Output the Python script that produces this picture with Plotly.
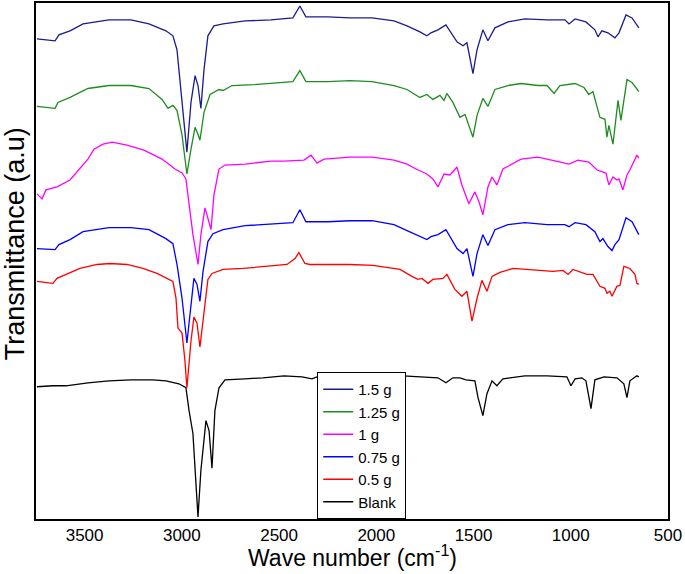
import plotly.graph_objects as go

# ---- data (wavenumber in cm^-1, transmittance in a.u.) ----
labels = ["1.5 g", "1.25 g", "1 g", "0.75 g", "0.5 g", "Blank"]
colors = ["#1c1c8e", "#1e8c1e", "#ff00ff", "#0000ff", "#ff0000", "#000000"]

wn_15 = [3745, 3652, 3632, 3575, 3508, 3375, 3262, 3169, 3082, 3046, 3025, 2999, 2974, 2953, 2932, 2917, 2902, 2886,
         2866, 2835, 2788, 2675, 2542, 2429, 2393, 2362, 2249, 2135, 2022, 1909, 1842, 1776, 1740, 1719, 1683, 1642,
         1616, 1585, 1554, 1534, 1503, 1482, 1452, 1426, 1390, 1323, 1236, 1122, 1030, 1009, 978, 922, 876, 860, 840,
         809, 773, 752, 716, 685, 650]
t_15 = [483, 481, 487, 491, 498, 502, 502, 498, 491, 486, 472, 419, 369, 419, 446, 436, 413, 452,
        486, 496, 498, 501, 502, 504, 516, 505, 505, 504, 504, 501, 496, 490, 486, 489, 492, 497,
        489, 480, 476, 479, 448, 472, 492, 481, 494, 500, 503, 502, 502, 498, 503, 500, 492, 485, 491,
        489, 484, 489, 507, 504, 494]

wn_125 = [3745, 3652, 3637, 3575, 3483, 3375, 3262, 3169, 3102, 3071, 3046, 3025, 2999, 2974, 2953, 2932, 2917, 2907,
          2886, 2855, 2809, 2788, 2742, 2629, 2495, 2429, 2393, 2362, 2249, 2135, 2022, 1909, 1842, 1796, 1776, 1740,
          1709, 1673, 1652, 1637, 1606, 1570, 1544, 1503, 1482, 1452, 1426, 1390, 1323, 1256, 1169, 1122, 1086, 1056,
          978, 932, 907, 886, 850, 824, 814, 804, 783, 757, 742, 711, 685, 650]
t_125 = [415, 413, 419, 424, 433, 436, 436, 433, 422, 413, 416, 411, 386, 347, 372, 394, 387, 381,
         409, 427, 432, 431, 436, 437, 439, 440, 451, 440, 440, 441, 440, 436, 432, 427, 424, 427,
         422, 426, 421, 428, 419, 404, 407, 384, 406, 423, 415, 432, 436, 438, 436, 436, 428, 436,
         438, 434, 427, 430, 404, 402, 384, 396, 377, 421, 401, 442, 439, 430]

wn_1 = [3745, 3719, 3699, 3642, 3575, 3519, 3483, 3452, 3405, 3359, 3282, 3195, 3102, 3035, 2999, 2979, 2963, 2943,
        2917, 2902, 2881, 2871, 2850, 2835, 2809, 2778, 2675, 2542, 2475, 2372, 2336, 2305, 2269, 2135, 2022, 1909,
        1842, 1796, 1740, 1709, 1683, 1652, 1621, 1585, 1560, 1524, 1493, 1472, 1452, 1426, 1405, 1380, 1349, 1256,
        1169, 1076, 1009, 963, 907, 865, 819, 804, 783, 763, 752, 732, 711, 696, 685, 660, 650]
t_1 = [327, 322, 331, 334, 341, 354, 362, 372, 377, 379, 376, 371, 362, 352, 348, 342, 319, 286,
       256, 286, 313, 306, 291, 326, 352, 356, 357, 360, 360, 361, 366, 358, 362, 364, 364, 361,
       357, 352, 347, 342, 334, 347, 346, 354, 336, 317, 329, 319, 306, 334, 344, 336, 352, 362,
       364, 360, 357, 361, 359, 351, 348, 336, 344, 341, 342, 331, 346, 351, 356, 366, 363]

wn_075 = [3745, 3652, 3632, 3575, 3508, 3375, 3262, 3169, 3082, 3046, 3025, 2999, 2974, 2958, 2938, 2922, 2907, 2891,
          2866, 2840, 2788, 2675, 2542, 2429, 2393, 2362, 2249, 2135, 2022, 1909, 1842, 1776, 1740, 1719, 1683, 1642,
          1616, 1585, 1554, 1534, 1503, 1482, 1452, 1426, 1390, 1323, 1236, 1122, 1030, 1009, 978, 922, 876, 850, 835,
          809, 788, 773, 752, 716, 685, 650]
t_075 = [272, 271, 276, 281, 289, 293, 293, 291, 282, 277, 256, 222, 177, 206, 242, 236, 219, 249,
         279, 287, 291, 295, 297, 298, 311, 299, 299, 300, 300, 296, 290, 284, 281, 284, 286, 291,
         282, 272, 267, 272, 244, 267, 286, 275, 291, 296, 298, 296, 296, 294, 298, 296, 289, 279, 282,
         274, 270, 276, 281, 303, 299, 286]

wn_05 = [3745, 3663, 3642, 3575, 3524, 3436, 3370, 3282, 3200, 3128, 3076, 3046, 3030, 3020, 2999, 2984, 2974, 2953,
         2938, 2922, 2907, 2891, 2866, 2845, 2788, 2686, 2583, 2459, 2418, 2398, 2367, 2341, 2238, 2135, 2017, 1878,
         1817, 1786, 1765, 1734, 1709, 1657, 1637, 1596, 1560, 1534, 1508, 1482, 1457, 1431, 1405, 1364, 1297, 1225,
         1158, 1092, 1040, 1014, 989, 917, 886, 850, 824, 814, 799, 788, 763, 747, 727, 696, 670, 660, 650]
t_05 = [239, 237, 242, 248, 252, 256, 257, 256, 252, 247, 242, 239, 222, 192, 187, 159, 132, 179,
        203, 197, 173, 202, 241, 247, 251, 252, 254, 256, 262, 268, 257, 256, 256, 256, 255, 251,
        244, 241, 242, 237, 241, 242, 246, 231, 224, 229, 199, 222, 240, 229, 244, 248, 252, 251,
        250, 249, 250, 246, 251, 246, 246, 234, 232, 227, 229, 224, 234, 235, 254, 252, 246, 237, 236]

wn_blank = [3745, 3663, 3596, 3483, 3375, 3262, 3148, 3082, 3015, 2979, 2963, 2943, 2917, 2902, 2876, 2860, 2845, 2830,
            2809, 2778, 2675, 2583, 2475, 2382, 2331, 2305, 2135, 2022, 1863, 1776, 1683, 1642, 1606, 1570, 1539, 1493,
            1477, 1452, 1431, 1405, 1380, 1349, 1236, 1122, 1020, 999, 978, 943, 922, 896, 876, 829, 763, 727, 711,
            696, 660, 650]
t_blank = [133, 134, 134, 137, 139, 140, 140, 139, 136, 132, 109, 86, 2, 49, 99, 89, 51, 109,
           132, 140, 141, 142, 144, 143, 141, 143, 145, 145, 144, 143, 142, 137, 142, 142, 140, 139,
           122, 104, 126, 139, 134, 141, 144, 144, 143, 134, 141, 142, 139, 111, 140, 143, 142, 136, 122,
           139, 144, 143]

x_ticks = [3500, 3000, 2500, 2000, 1500, 1000, 500]

series = [(wn_15, t_15), (wn_125, t_125), (wn_1, t_1), (wn_075, t_075), (wn_05, t_05), (wn_blank, t_blank)]

FONT = "Liberation Sans, Arial, sans-serif"

fig = go.Figure()
for (xs, ys), name, col in zip(series, labels, colors):
    fig.add_trace(go.Scatter(x=xs, y=ys, mode="lines", name=name,
                             line=dict(color=col, width=1.3)))

fig.update_layout(
    width=685, height=574,
    margin=dict(l=36, r=17, t=1, b=55),
    paper_bgcolor="white", plot_bgcolor="white",
    font=dict(family=FONT, color="black"),
    showlegend=True,
    legend=dict(x=0.445, y=0, xanchor="left", yanchor="bottom",
                bordercolor="black", borderwidth=1, bgcolor="white",
                font=dict(size=15, family=FONT), traceorder="normal"),
    annotations=[
        dict(text="Transmittance (a.u)", xref="paper", yref="paper",
             x=-0.032, y=0.534, xanchor="center", yanchor="middle", textangle=-90,
             showarrow=False, font=dict(size=27, family=FONT)),
        dict(text="Wave number (cm<sup>-1</sup>)", xref="paper", yref="paper",
             x=0.5, y=-0.071, xanchor="center", yanchor="middle",
             showarrow=False, font=dict(size=23, family=FONT)),
    ],
)
fig.update_xaxes(range=[3750, 500], tickvals=x_ticks, ticktext=[str(v) for v in x_ticks],
                 showgrid=False, zeroline=False, showline=True, linecolor="black", linewidth=2,
                 mirror=True, ticks="", tickfont=dict(size=17, family=FONT))
fig.update_yaxes(range=[0, 519], showticklabels=False, showgrid=False, zeroline=False,
                 showline=True, linecolor="black", linewidth=2, mirror=True, ticks="")

fig.write_html("out.html", config={"displayModeBar": False},
               post_script="document.body.style.margin='0';document.body.style.overflow='hidden';")
